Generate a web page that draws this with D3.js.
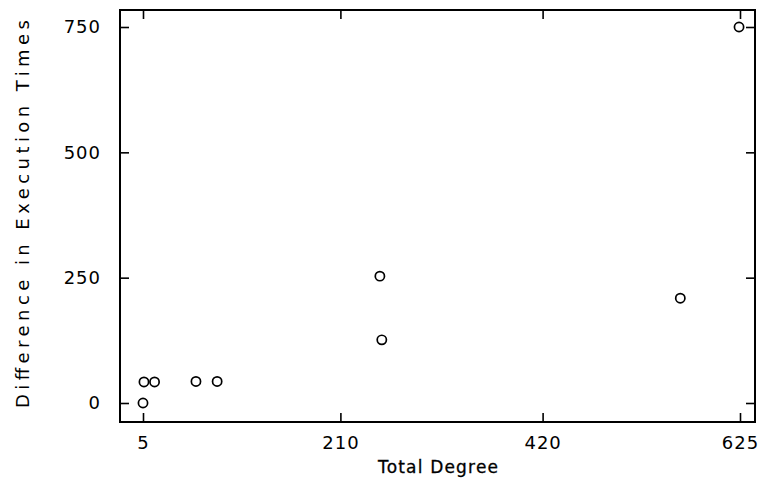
<!DOCTYPE html>
<html>
<head>
<meta charset="utf-8">
<script src="https://cdn.jsdelivr.net/npm/d3@7"></script>
<style>
  body { margin: 0; background: #fff; }
  text { font-family: "DejaVu Sans", sans-serif; fill: #000; }
</style>
</head>
<body>
<svg width="761" height="501"></svg>
<script>
// values
var degree = [5, 6, 17, 60, 82, 251, 253, 563, 624];
var diff   = [0, 42, 42, 43, 43, 253, 126, 209, 750];
var xTicks = [5, 210, 420, 625];
var yTicks = [0, 250, 500, 750];

var svg = d3.select("svg"),
    pLeft = 120, pRight = 755, pTop = 10, pBottom = 422;

var x = d3.scaleLinear().domain([5, 625]).range([143, 740]);
var y = d3.scaleLinear().domain([0, 750]).range([403, 27]);

// frame
svg.append("rect")
   .attr("x", pLeft).attr("y", pTop)
   .attr("width", pRight - pLeft).attr("height", pBottom - pTop)
   .style("fill", "none").style("stroke", "black").style("stroke-width", 2);

// inward ticks on all four sides
var tl = 9;
var gB = svg.append("g").attr("transform", "translate(0," + pBottom + ")")
   .call(d3.axisBottom(x).tickValues(xTicks).tickSize(-tl).tickPadding(tl + 5).tickFormat(d3.format("d")));
var gT = svg.append("g").attr("transform", "translate(0," + pTop + ")")
   .call(d3.axisTop(x).tickValues(xTicks).tickSize(-tl).tickFormat(""));
var gL = svg.append("g").attr("transform", "translate(" + pLeft + ",0)")
   .call(d3.axisLeft(y).tickValues(yTicks).tickSize(-tl).tickPadding(tl + 10).tickFormat(d3.format("d")));
var gR = svg.append("g").attr("transform", "translate(" + pRight + ",0)")
   .call(d3.axisRight(y).tickValues(yTicks).tickSize(-tl).tickFormat(""));

[gB, gT, gL, gR].forEach(function(g) {
  g.select(".domain").remove();
  g.selectAll(".tick line").style("stroke", "black").style("stroke-width", 1.6);
  g.selectAll("text").style("font-family", "DejaVu Sans, sans-serif")
   .style("font-size", "18px").style("letter-spacing", "1px").attr("fill", "black");
});

// points
svg.selectAll(".pt").data(degree).enter()
   .append("circle")
   .attr("class", "pt")
   .attr("cx", function(d) { return x(d); })
   .attr("cy", function(d, i) { return y(diff[i]); })
   .attr("r", 4.6)
   .style("fill", "none").style("stroke", "black").style("stroke-width", 1.7);

// axis titles
svg.append("text")
   .attr("x", 438).attr("y", 473)
   .attr("text-anchor", "middle")
   .attr("textLength", 120).attr("lengthAdjust", "spacing")
   .style("font-size", "17px")
   .style("stroke", "black").style("stroke-width", 0.3)
   .text("Total Degree");

svg.append("text")
   .attr("transform", "translate(29,214) rotate(-90)")
   .attr("text-anchor", "middle")
   .attr("textLength", 388).attr("lengthAdjust", "spacing")
   .style("font-size", "18px")
   .text("Difference in Execution Times");
</script>
</body>
</html>
